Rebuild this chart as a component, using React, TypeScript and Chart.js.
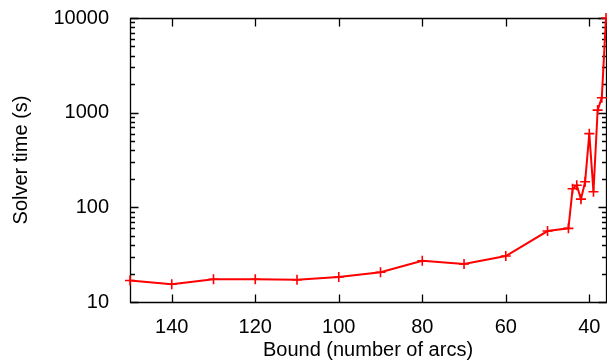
import React, { useEffect, useRef } from "react";
import { Chart, registerables } from "chart.js";

Chart.register(...registerables);

const bounds = [150, 140, 130, 120, 110, 100, 90, 80, 70, 60, 50, 45, 44, 43, 42, 41, 40, 39, 38, 37, 36];
const times = [16.9, 15.4, 17.4, 17.4, 17.2, 18.4, 20.6, 27.3, 25.2, 30.6, 56.2, 60, 157, 171, 122, 186, 600, 146, 1064, 1440, 10000];
const xTickValues = [140, 120, 100, 80, 60, 40];
const yTickValues = [10, 100, 1000, 10000];
const xTitle = "Bound (number of arcs)";
const yTitle = "Solver time (s)";

const FONT = "'Liberation Sans', Arial, Helvetica, sans-serif";
const FS = 20;

const framePlugin = {
  id: "frame",
  beforeDatasetsDraw(chart: any) {
    const { ctx, chartArea, scales } = chart;
    const { left, right, top, bottom } = chartArea;
    const xs = scales.x;
    const ys = scales.y;
    const L = Math.round(left) + 0.5;
    const R = Math.round(right) + 0.5;
    const T = Math.round(top) + 0.5;
    const B = Math.round(bottom) + 0.5;
    ctx.save();
    ctx.strokeStyle = "#000";
    ctx.lineWidth = 1.3;
    ctx.beginPath();
    ctx.moveTo(L, T);
    ctx.lineTo(R, T);
    ctx.lineTo(R, B);
    ctx.lineTo(L, B);
    ctx.closePath();
    ctx.stroke();
    const major = 8;
    const minor = 4.5;
    ctx.beginPath();
    for (const v of xTickValues) {
      const px = Math.round(xs.getPixelForValue(v)) + 0.5;
      ctx.moveTo(px, B);
      ctx.lineTo(px, B - major);
      ctx.moveTo(px, T);
      ctx.lineTo(px, T + major);
    }
    for (let i = 0; i < yTickValues.length; i++) {
      const d = yTickValues[i];
      const py = Math.round(ys.getPixelForValue(d)) + 0.5;
      ctx.moveTo(L, py);
      ctx.lineTo(L + major, py);
      ctx.moveTo(R, py);
      ctx.lineTo(R - major, py);
      if (i < yTickValues.length - 1) {
        for (let k = 2; k <= 9; k++) {
          const my = Math.round(ys.getPixelForValue(d * k)) + 0.5;
          ctx.moveTo(L, my);
          ctx.lineTo(L + minor, my);
          ctx.moveTo(R, my);
          ctx.lineTo(R - minor, my);
        }
      }
    }
    ctx.stroke();
    ctx.restore();
  },
};

const zeroPad = (s: any) => {
  s.paddingTop = 0;
  s.paddingBottom = 0;
  s.paddingLeft = 0;
  s.paddingRight = 0;
};

export default function App() {
  const ref = useRef<HTMLCanvasElement | null>(null);
  useEffect(() => {
    if (!ref.current) return;
    const chart = new Chart(ref.current, {
      type: "line",
      data: {
        datasets: [
          {
            data: bounds.map((b, i) => ({ x: b, y: times[i] })),
            borderColor: "#ff0000",
            backgroundColor: "#ff0000",
            borderWidth: 2,
            pointStyle: "cross",
            pointRadius: 5,
            pointBorderWidth: 1.6,
            pointBorderColor: "#ff0000",
            tension: 0,
            clip: false as any,
          },
        ],
      },
      options: {
        animation: false,
        responsive: false,
        layout: { autoPadding: false, padding: { top: 18, right: 1, left: 0, bottom: 0 } },
        plugins: { legend: { display: false }, tooltip: { enabled: false } },
        scales: {
          x: {
            type: "linear",
            reverse: true,
            min: 36,
            max: 150,
            position: "bottom",
            afterBuildTicks: (s: any) => {
              s.ticks = xTickValues.map((v) => ({ value: v }));
            },
            afterFit: (s: any) => {
              s.height = 62;
              zeroPad(s);
            },
            grid: { display: false },
            border: { display: false },
            ticks: {
              color: "#000",
              font: { family: FONT, size: FS },
              padding: 5,
              maxRotation: 0,
              autoSkip: false,
              callback: (v: any) => String(v),
            },
            title: {
              display: true,
              text: xTitle,
              color: "#000",
              font: { family: FONT, size: FS },
              padding: { top: 0, bottom: 2 },
            },
          },
          y: {
            type: "logarithmic",
            min: 10,
            max: 10000,
            afterBuildTicks: (s: any) => {
              s.ticks = yTickValues.map((v) => ({ value: v }));
            },
            afterFit: (s: any) => {
              s.width = 130;
              zeroPad(s);
            },
            grid: { display: false },
            border: { display: false },
            ticks: {
              color: "#000",
              font: { family: FONT, size: FS },
              padding: 13,
              autoSkip: false,
              callback: (v: any) => String(v),
            },
            title: {
              display: true,
              text: yTitle,
              color: "#000",
              font: { family: FONT, size: FS },
              padding: { top: 9, bottom: 0 },
            },
          },
        },
      },
      plugins: [framePlugin],
    });
    return () => chart.destroy();
  }, []);
  return (
    <div style={{ position: "fixed", left: 0, top: 0, width: 607, height: 364, background: "#fff" }}>
      <canvas ref={ref} width={607} height={364} style={{ display: "block" }} />
    </div>
  );
}
